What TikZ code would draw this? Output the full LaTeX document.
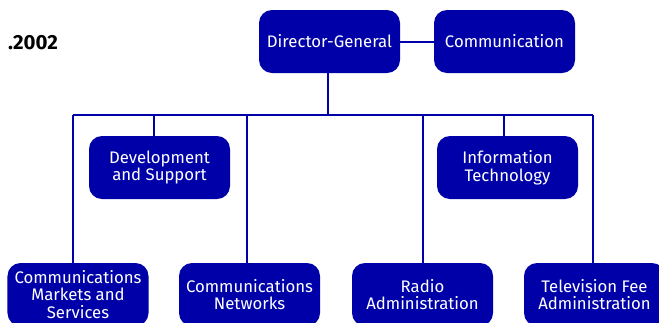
\documentclass[tikz,border=0pt]{standalone}
\usepackage{fontspec}
\setmainfont{Fira Sans}
\definecolor{boxblue}{HTML}{0000A8}
\begin{document}
\begin{tikzpicture}[x=1bp,y=-1bp,
  box/.style={fill=boxblue, draw=none, rounded corners=13bp, text=white, align=center,
    font=\fontsize{16.8}{17.8}\selectfont, minimum width=141bp, minimum height=63bp, inner sep=0pt},
  link/.style={draw=boxblue, line width=2bp}]
\useasboundingbox (0,0) rectangle (659,322);
\clip (0,0) rectangle (659,322);
\node[anchor=east, font=\fontsize{20.5}{22}\selectfont\bfseries, text=black, inner sep=0pt] (date) at (58,43) {.2002};
\node[box] (DG) at (329.5,41.5) {Director-General};
\node[box] (Comm) at (504.5,41.5) {Communication};
\node[box] (Dev) at (159.5,167.5) {Development\\and Support};
\node[box] (IT) at (507.5,167.5) {Information\\Technology};
\node[box] (CMS) at (78,294.5) {Communications\\Markets and\\Services};
\node[box] (CN) at (249.5,294.5) {Communications\\Networks};
\node[box] (Radio) at (422.5,294.5) {Radio\\Administration};
\node[box] (TV) at (594.5,294.5) {Television Fee\\Administration};
\coordinate (bL) at (73,115);
\coordinate (bR) at (593,115);
\coordinate (bDG) at (328,115);
\coordinate (bDev) at (154,115);
\coordinate (bCN) at (247,115);
\coordinate (bRadio) at (423,115);
\coordinate (bIT) at (504,115);
\draw[link] (DG.east) -- (Comm.west);
\draw[link] (DG.south -| bDG) -- (bDG);
\draw[link] (bL) -- (bR);
\draw[link] (bL) -- (bL |- CMS.north);
\draw[link] (bDev) -- (bDev |- Dev.north);
\draw[link] (bCN) -- (bCN |- CN.north);
\draw[link] (bRadio) -- (bRadio |- Radio.north);
\draw[link] (bIT) -- (bIT |- IT.north);
\draw[link] (bR) -- (bR |- TV.north);
\end{tikzpicture}
\end{document}
